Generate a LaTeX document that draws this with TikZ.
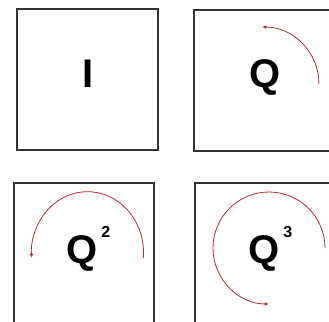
\documentclass[tikz,border=0pt]{standalone}
\usepackage{fontspec}
\setmainfont{Liberation Sans}
\usepackage{xcolor}
\usetikzlibrary{arrows.meta}
\definecolor{arcred}{RGB}{185,40,52}
\newcommand{\qpow}[1]{\kern3.5pt\raisebox{25.5pt}{\fontsize{16}{16}\bfseries\selectfont #1}}

\begin{document}
\begin{tikzpicture}[x=1pt,y=-1pt,
	    panel/.style={draw=black!80, line width=1.1pt},
	    rot/.style={-{Latex[length=1.5mm,width=1.3mm]}, draw=arcred, line width=0.8pt},
	    lbl/.style={inner sep=0pt, anchor=base, font=\fontsize{40}{40}\bfseries\selectfont}
	  ]
	  \useasboundingbox (0,0) rectangle (329,321);
	  \clip (0,0) rectangle (329,321);
	 
	  % the four panels
	  \draw[panel] (17,9) rectangle (158,150);
	  \draw[panel] (194,10) rectangle (345,151);
	  \draw[panel] (14,183) rectangle (154,335);
	  \draw[panel] (195,183) rectangle (345,335);
	 
	  % labels
	  \node[lbl] (eye) at (88.5,88) {I};
	  \node[lbl] (q1) at (265,87) {Q};
	  \node[lbl, anchor=base west] (q2) at (66.5,263) {Q\qpow{2}};
	  \node[lbl, anchor=base west] (q3) at (248.5,263) {Q\qpow{3}};
	 
	  % quarter, half and three quarter turns
	  \draw[rot] (319,84) arc[start angle=0, end angle=90, radius=57pt];
	  \draw[rot] (143.3,258) arc[start angle=-5, end angle=185, x radius=56pt, y radius=61pt];
	  \draw[rot] (325,248) arc[start angle=0, end angle=270, radius=56pt];
	\end{tikzpicture}
\end{document}
